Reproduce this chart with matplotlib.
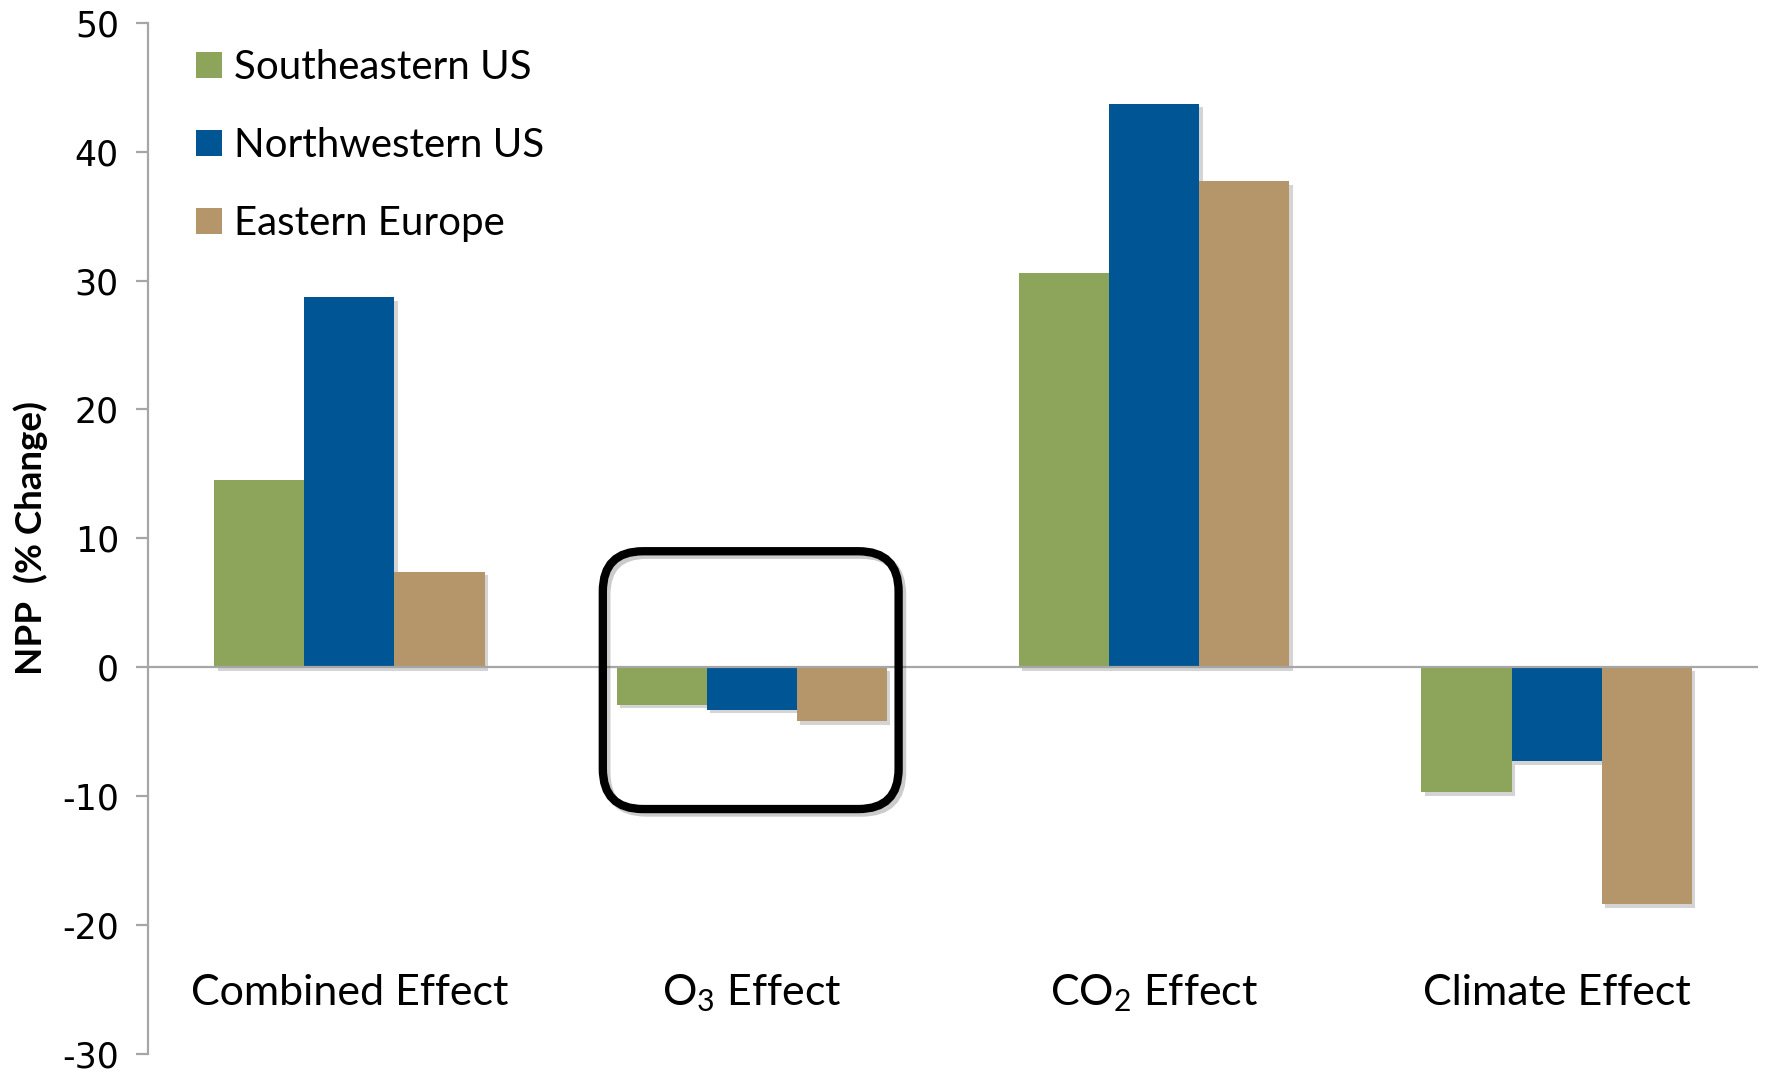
import matplotlib
matplotlib.use("Agg")
import matplotlib.pyplot as plt
import matplotlib.patheffects as pe
from matplotlib.patches import FancyBboxPatch, Patch
import numpy as np

plt.rcParams['font.family'] = ['Lato', 'DejaVu Sans']

categories = ["Combined Effect", r"$\mathregular{O_3}$ Effect",
              r"$\mathregular{CO_2}$ Effect", "Climate Effect"]
series = ["Southeastern US", "Northwestern US", "Eastern Europe"]
southeastern_us = [14.5, -2.9, 30.6, -9.7]
northwestern_us = [28.7, -3.3, 43.7, -7.3]
eastern_europe = [7.4, -4.2, 37.7, -18.4]
colors = ["#8DA55B", "#005595", "#B4966A"]
yticks = [-30, -20, -10, 0, 10, 20, 30, 40, 50]

W, H, DPI = 17.67, 10.81, 100
fig = plt.figure(figsize=(W, H), dpi=DPI)
ax = fig.add_axes([0.0838, 0.025, 0.911, 0.954])

x = np.arange(len(categories))
bw = 0.224
shadow = [pe.SimplePatchShadow(offset=(2.5, -2.5), alpha=0.25, shadow_rgbFace='#555555'),
          pe.Normal()]
for i, (vals, c) in enumerate(zip([southeastern_us, northwestern_us, eastern_europe], colors)):
    bars = ax.bar(x + (i - 1) * bw, vals, width=bw, color=c, zorder=3)
    for b in bars:
        b.set_path_effects(shadow)

ax.set_xlim(-0.5, 3.5)
ax.set_ylim(-30, 50)
ax.axhline(0, color='#A6A6A6', lw=1.6, zorder=4)

for s in ['top', 'right', 'bottom']:
    ax.spines[s].set_visible(False)
ax.spines['left'].set_color('#A6A6A6')
ax.spines['left'].set_linewidth(1.6)
ax.set_xticks([])
ax.set_yticks(yticks)
ax.set_yticklabels([str(t) for t in yticks], fontsize=25, family='DejaVu Sans')
ax.tick_params(axis='y', direction='out', length=9, width=1.6, color='#A6A6A6', pad=12)

ax.set_ylabel("NPP  (% Change)", fontsize=26.5, fontweight='bold', labelpad=10)

for xi, lab in zip(x, categories):
    ax.text(xi, -25.3, lab, ha='center', va='center', fontsize=31)

# rounded highlight around the ozone group
fig.canvas.draw()
bb = ax.get_window_extent()
px_per_x = bb.width / 4.0
px_per_y = bb.height / 80.0
aspect = px_per_x / px_per_y
box = FancyBboxPatch((0.63, -11.0), 0.735, 20.0,
                     boxstyle="round,pad=0,rounding_size=0.1",
                     mutation_aspect=aspect, fill=False, lw=6, ec='black', zorder=5)
box.set_path_effects([pe.SimpleLineShadow(offset=(2.5, -2.5), alpha=0.3, shadow_color='#555555'),
                      pe.Normal()])
ax.add_patch(box)

handles = [Patch(facecolor=c, edgecolor='none') for c in colors]
ax.legend(handles, series, loc='upper left', bbox_to_anchor=(0.02, 0.99),
          frameon=False, fontsize=29, handlelength=0.64, handleheight=0.64,
          handletextpad=0.3, labelspacing=1.02, borderaxespad=0)

fig.savefig("out.png", dpi=DPI, facecolor='white')
